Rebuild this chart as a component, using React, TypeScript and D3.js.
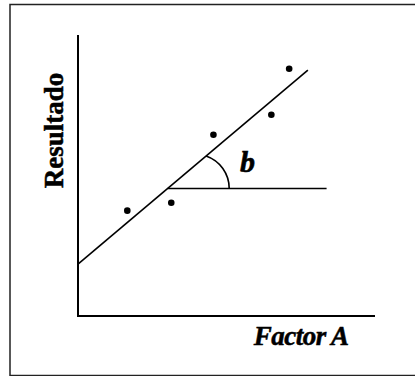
import React from "react";
import * as d3 from "d3";

const pointsX = [1.66, 3.14, 4.56, 6.51, 7.11];
const pointsY = [3.75, 4.03, 6.45, 7.16, 8.8];
const fitX = [0, 7.74];
const fitY = [1.85, 8.75];
const refY = 4.54;
const refEndX = 8.37;
const xLabel = "Factor A";
const yLabel = "Resultado";
const angleLabel = "b";

export default function App() {
  const W = 415;
  const H = 376;
  const x = d3.scaleLinear().domain([0, 10]).range([78, 375]);
  const y = d3.scaleLinear().domain([0, 10]).range([316, 35]);
  const font = "'Liberation Serif', 'Times New Roman', serif";

  const slope = (fitY[1] - fitY[0]) / (fitX[1] - fitX[0]);
  const refStartX = fitX[0] + (refY - fitY[0]) / slope;

  // angle arc: circle centred on the reference line
  const cx = x(refStartX) + 27.3;
  const cy = y(refY);
  const r = 34.3;
  const px0 = x(fitX[0]), py0 = y(fitY[0]);
  const px1 = x(fitX[1]), py1 = y(fitY[1]);
  const dx = px1 - px0, dy = py1 - py0;
  const len = Math.hypot(dx, dy);
  const ux = dx / len, uy = dy / len;
  const fx = px0 - cx, fy = py0 - cy;
  const bq = fx * ux + fy * uy;
  const cq = fx * fx + fy * fy - r * r;
  const t = -bq + Math.sqrt(bq * bq - cq);
  const ax = px0 + ux * t, ay = py0 + uy * t;
  const arcPath = `M${ax},${ay} A${r},${r} 0 0 1 ${cx + r},${cy}`;

  const line = d3.line<[number, number]>().x((d) => x(d[0])).y((d) => y(d[1]));

  return (
    <svg width={W} height={H} style={{ position: "absolute", left: 0, top: 0 }}>
      <rect x={10} y={4.5} width={420} height={371} fill="white" stroke="#222" strokeWidth={1.5} />
      <path d={line([[0, 10], [0, 0], [10, 0]]) || ""} fill="none" stroke="#000" strokeWidth={2} />
      <path d={line([[fitX[0], fitY[0]], [fitX[1], fitY[1]]]) || ""} stroke="#000" strokeWidth={1.6} fill="none" />
      <path d={line([[refStartX, refY], [refEndX, refY]]) || ""} stroke="#000" strokeWidth={1.6} fill="none" />
      <path d={arcPath} fill="none" stroke="#000" strokeWidth={1.6} />
      {pointsX.map((px, i) => (
        <circle key={i} cx={x(px)} cy={y(pointsY[i])} r={3.3} fill="#000" />
      ))}
      <text x={240} y={171.7} fontFamily={font} fontSize={30} fontWeight="bold" fontStyle="italic" stroke="#000" strokeWidth={0.6}>
        {angleLabel}
      </text>
      <text x={348.5} y={345} textAnchor="end" fontFamily={font} fontSize={27} fontWeight="bold" fontStyle="italic" letterSpacing={-0.5} stroke="#000" strokeWidth={0.5}>
        {xLabel}
      </text>
      <text transform="translate(62.5,130.5) rotate(-90)" textAnchor="middle" fontFamily={font} fontSize={27} fontWeight="bold" stroke="#000" strokeWidth={0.5}>
        {yLabel}
      </text>
    </svg>
  );
}
